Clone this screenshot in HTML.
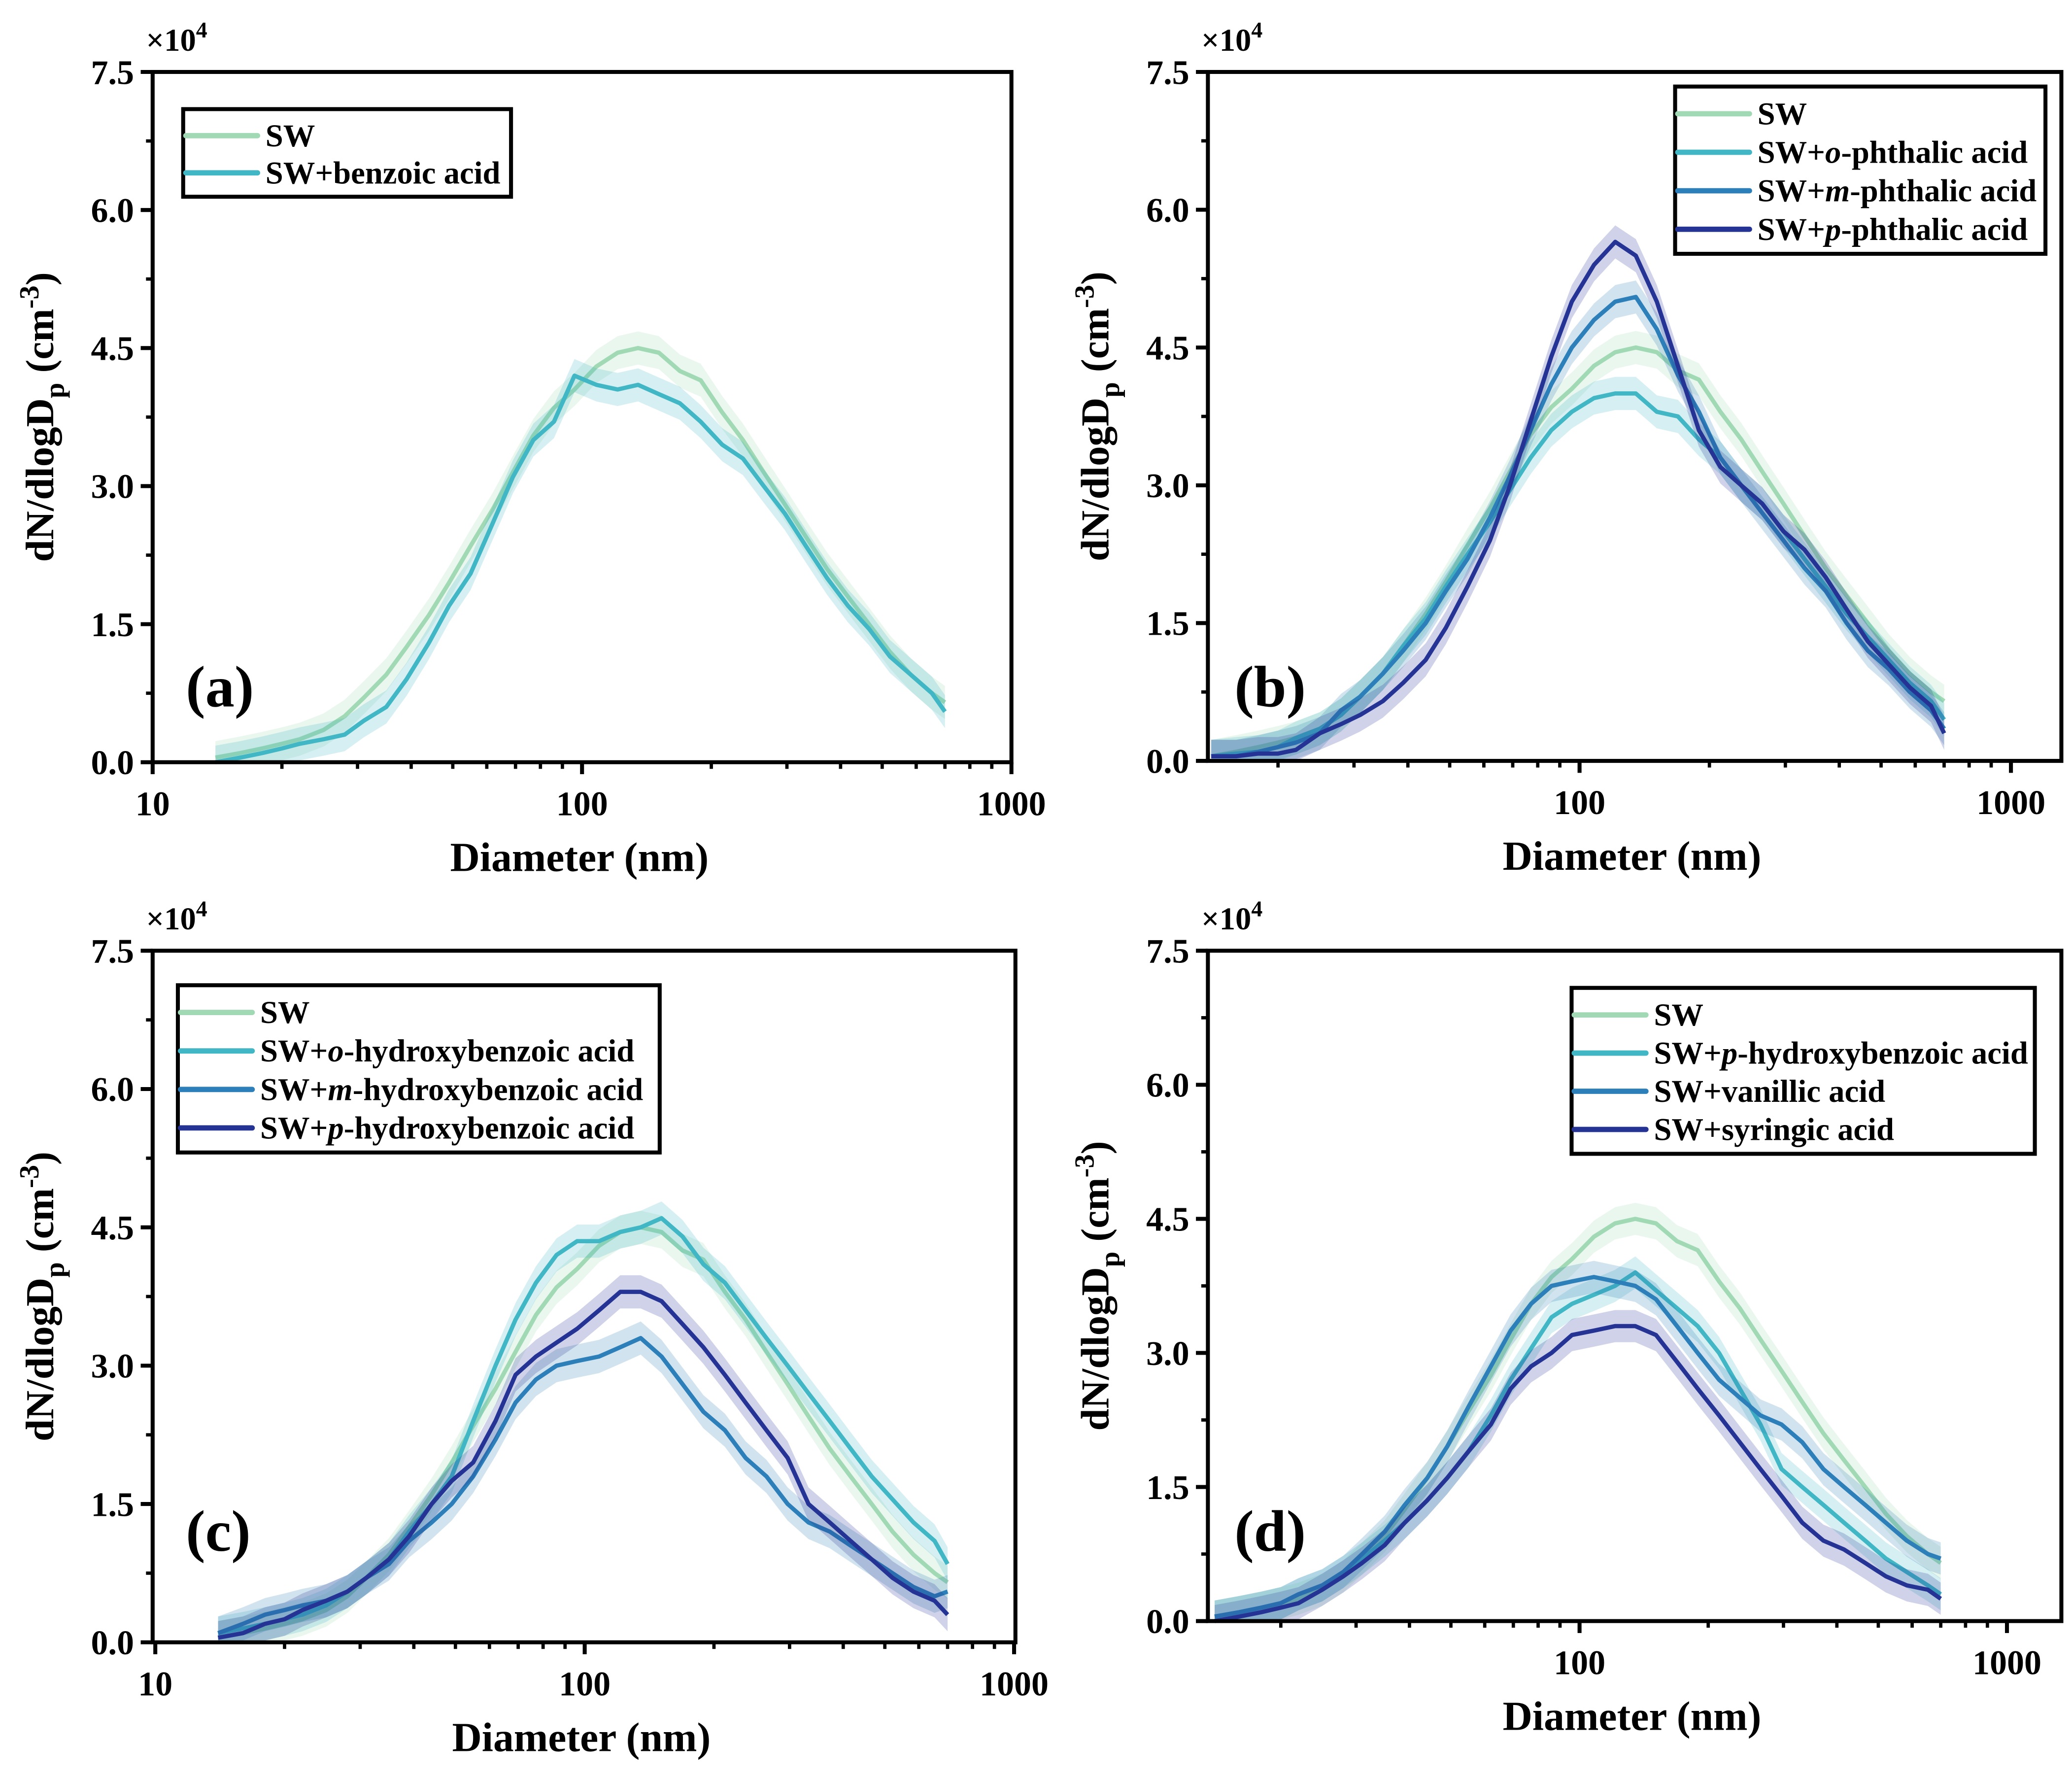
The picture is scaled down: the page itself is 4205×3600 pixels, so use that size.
<!DOCTYPE html>
<html><head><meta charset="utf-8">
<style>
html,body{margin:0;padding:0;background:#fff;}
svg{display:block;}
text{font-family:"Liberation Serif",serif;font-weight:bold;fill:#000;}
</style></head>
<body>
<svg id="chart" width="4205" height="3600" viewBox="0 0 1561 1336" xmlns="http://www.w3.org/2000/svg"></svg>
<script>
const diameters=[14,16,18,20,22,25,28,31,35,39,44,49,55,62,69,77,86,96,108,121,135,151,169,189,212,237,265,297,332,372,416,466,521,583,653,700];
const swVals=[0.05,0.1,0.15,0.2,0.25,0.35,0.5,0.7,0.95,1.25,1.6,1.95,2.35,2.75,3.15,3.55,3.85,4.05,4.3,4.45,4.5,4.45,4.25,4.15,3.8,3.5,3.15,2.8,2.45,2.1,1.8,1.5,1.2,0.95,0.75,0.65];
const benzoicVals=[0,0.05,0.1,0.15,0.2,0.25,0.3,0.45,0.6,0.9,1.3,1.7,2.05,2.6,3.1,3.5,3.7,4.2,4.1,4.05,4.1,4.0,3.9,3.7,3.45,3.3,3.0,2.7,2.35,2.0,1.7,1.45,1.15,0.95,0.75,0.55];
const oPhthVals=[0.05,0.08,0.1,0.15,0.25,0.35,0.5,0.7,0.95,1.25,1.55,1.9,2.25,2.6,2.95,3.3,3.6,3.8,3.95,4.0,4.0,3.8,3.75,3.5,3.3,3.0,2.8,2.5,2.2,1.9,1.6,1.35,1.1,0.85,0.65,0.45];
const mPhthVals=[0.05,0.05,0.1,0.15,0.2,0.3,0.55,0.7,0.95,1.2,1.5,1.85,2.2,2.65,3.1,3.6,4.1,4.5,4.8,5.0,5.05,4.7,4.2,3.8,3.3,3.0,2.7,2.4,2.1,1.85,1.5,1.2,1.0,0.75,0.55,0.35];
const pPhthVals=[0.05,0.05,0.08,0.08,0.12,0.3,0.4,0.5,0.65,0.85,1.1,1.45,1.9,2.4,3.0,3.7,4.4,5.0,5.4,5.65,5.5,5.0,4.3,3.6,3.2,3.0,2.8,2.5,2.3,2.0,1.65,1.3,1.05,0.8,0.6,0.3];
const oHbVals=[0.1,0.15,0.2,0.25,0.3,0.4,0.55,0.7,0.9,1.2,1.5,1.8,2.4,3.0,3.5,3.9,4.2,4.35,4.35,4.45,4.5,4.6,4.4,4.1,3.9,3.6,3.3,3.0,2.7,2.4,2.1,1.8,1.55,1.3,1.1,0.85];
const mHbVals=[0.1,0.2,0.3,0.35,0.4,0.45,0.55,0.7,0.85,1.1,1.3,1.5,1.8,2.2,2.6,2.85,3.0,3.05,3.1,3.2,3.3,3.1,2.8,2.5,2.3,2.0,1.8,1.5,1.3,1.2,1.05,0.9,0.75,0.6,0.5,0.55];
const pHbVals=[0.05,0.1,0.2,0.25,0.35,0.45,0.55,0.7,0.9,1.15,1.5,1.75,1.95,2.4,2.9,3.1,3.25,3.4,3.6,3.8,3.8,3.7,3.45,3.2,2.9,2.6,2.3,2.0,1.5,1.3,1.1,0.9,0.7,0.55,0.45,0.3];
const pHbDVals=[0.05,0.1,0.15,0.2,0.3,0.4,0.55,0.7,0.9,1.1,1.35,1.6,1.9,2.3,2.7,3.05,3.4,3.55,3.65,3.75,3.9,3.7,3.5,3.3,3.0,2.6,2.2,1.7,1.5,1.3,1.1,0.9,0.7,0.55,0.4,0.3];
const vanillicVals=[0.05,0.1,0.15,0.2,0.3,0.4,0.55,0.75,1.0,1.3,1.6,1.95,2.4,2.85,3.25,3.55,3.75,3.8,3.85,3.8,3.75,3.6,3.3,3.0,2.7,2.5,2.3,2.2,2.0,1.7,1.5,1.3,1.1,0.9,0.75,0.7];
const syringicVals=[0.0,0.05,0.1,0.15,0.2,0.35,0.5,0.65,0.85,1.1,1.35,1.6,1.9,2.2,2.6,2.85,3.0,3.2,3.25,3.3,3.3,3.2,2.9,2.6,2.3,2.0,1.7,1.4,1.1,0.9,0.8,0.65,0.5,0.4,0.35,0.25];
const yTickLabels=["0.0","1.5","3.0","4.5","6.0","7.5"];
const yTickValues=[0,1.5,3,4.5,6,7.5];
const xTickValues=[10,100,1000];

const C_SW="#a0d9b4",C_2="#41b6c4",C_3="#2c7fb8",C_4="#253494";
const NS="http://www.w3.org/2000/svg";
const svg=document.getElementById('chart');
function el(tag,attrs,parent){const e=document.createElementNS(NS,tag);for(const k in attrs)e.setAttribute(k,attrs[k]);(parent||svg).appendChild(e);return e;}

const panels=[
 {id:'a',L:115,R:762,T:54,B:574,x10:115,dec:323.5,letter:[140,532],
  leg:{x:138,y:82,w:247,h:66},series:[["SW",swVals,C_SW],["SW+benzoic acid",benzoicVals,C_2]]},
 {id:'b',L:910,R:1553,T:54,B:573,x10:865,dec:325,letter:[930,532],
  leg:{x:1262,y:65,w:279,h:126},series:[["SW",swVals,C_SW],["SW+|o|-phthalic acid",oPhthVals,C_2],["SW+|m|-phthalic acid",mPhthVals,C_3],["SW+|p|-phthalic acid",pPhthVals,C_4]]},
 {id:'c',L:115,R:765,T:716,B:1237,x10:117,dec:323.5,letter:[140,1168],
  leg:{x:134,y:742,w:363,h:126},series:[["SW",swVals,C_SW],["SW+|o|-hydroxybenzoic acid",oHbVals,C_2],["SW+|m|-hydroxybenzoic acid",mHbVals,C_3],["SW+|p|-hydroxybenzoic acid",pHbVals,C_4]]},
 {id:'d',L:910,R:1553,T:716,B:1221,x10:868,dec:322,letter:[930,1168],
  leg:{x:1184,y:744,w:349,h:125},series:[["SW",swVals,C_SW],["SW+|p|-hydroxybenzoic acid",pHbDVals,C_2],["SW+vanillic acid",vanillicVals,C_3],["SW+syringic acid",syringicVals,C_4]]}
];

panels.forEach(p=>{
  const g=el('g',{});
  
  
  const xs=d=>p.x10+p.dec*Math.log10(d/10);
  const ys=v=>p.B-(v/7.5)*(p.B-p.T);
  p.series.forEach((s,i)=>{
    const vals=s[1];
    let up='',dn='';
    diameters.forEach((d,j)=>{up+=(j?'L':'M')+xs(d).toFixed(1)+','+ys(vals[j]+0.18).toFixed(1);});
    for(let j=diameters.length-1;j>=0;j--){dn+='L'+xs(diameters[j]).toFixed(1)+','+ys(Math.max(0,vals[j]-0.18)).toFixed(1);}
    const band=el('path',{d:up+dn+'Z',fill:s[2],'fill-opacity':0.22,stroke:'none'},g);
    
    
    let d='';
    diameters.forEach((dd,j)=>{d+=(j?'L':'M')+xs(dd).toFixed(1)+','+ys(vals[j]).toFixed(1);});
    const line=el('path',{d:d,fill:'none',stroke:s[2],'stroke-width':3.2,'stroke-linejoin':'round'},g);
    
    
  });
  const fr=el('rect',{x:p.L,y:p.T,width:p.R-p.L,height:p.B-p.T,fill:'none',stroke:'#000','stroke-width':3},g);
  
  
  yTickValues.forEach((v,i)=>{
    const y=ys(v);
    el('line',{x1:p.L-9,x2:p.L,y1:y,y2:y,stroke:'#000','stroke-width':3},g);
    if(i<yTickValues.length-1){const ym=ys(v+0.75);el('line',{x1:p.L-5,x2:p.L,y1:ym,y2:ym,stroke:'#000','stroke-width':2.5},g);}
    const t=el('text',{x:p.L-14,y:y+9,'text-anchor':'end','font-size':26},g);
    t.textContent=yTickLabels[i];
    
    
  });
  for(let dec=10;dec<=1000;dec*=10){
    for(let m=1;m<10;m++){
      const v=dec*m; if(v>1000) break;
      const x=xs(v); if(x<p.L-1||x>p.R+1) continue;
      el('line',{x1:x,x2:x,y1:p.B,y2:p.B+(m===1?9:5),stroke:'#000','stroke-width':m===1?3:2.5},g);
    }
  }
  xTickValues.forEach(v=>{
    const x=xs(v); if(x<p.L-2) return;
    const t=el('text',{x:x,y:p.B+40,'text-anchor':'middle','font-size':26},g);
    t.textContent=String(v);
    
    
  });
  const mu=el('text',{x:p.L-5,y:p.T-16,'font-size':24,'font-weight':'normal'},g);
  mu.innerHTML='×10<tspan dy="-10" font-size="17">4</tspan>';
  
  
  const xt=el('text',{x:(p.L+p.R)/2-2,y:p.B+82,'text-anchor':'middle','font-size':31},g);
  xt.textContent='Diameter (nm)';
  
  
  const cy=(p.T+p.B)/2;
  const yt=el('text',{x:0,y:0,'text-anchor':'middle','font-size':30,transform:`translate(${p.L-75},${cy}) rotate(-90)`},g);
  yt.innerHTML='dN/dlogD<tspan dy="8" font-size="21">p</tspan><tspan dy="-8"> (cm</tspan><tspan dy="-11" font-size="21">-3</tspan><tspan dy="11">)</tspan>';
  
  
  const pl=el('text',{x:p.letter[0],y:p.letter[1],'font-size':44},g);
  pl.textContent='('+p.id+')';
  
  
  const lg=el('g',{},g);
  
  
  el('rect',{x:p.leg.x,y:p.leg.y,width:p.leg.w,height:p.leg.h,fill:'#fff',stroke:'#000','stroke-width':3},lg);
  const n=p.series.length, rowH=(p.leg.h-10)/n;
  p.series.forEach((s,i)=>{
    const y=p.leg.y+6+rowH*(i+0.5);
    const ln=el('line',{x1:p.leg.x+2,x2:p.leg.x+56,y1:y,y2:y,stroke:s[2],'stroke-width':4,'stroke-linecap':'round'},lg);
    
    
    const t=el('text',{x:p.leg.x+62,y:y+8,'font-size':24},lg);
    
    
    s[0].split('|').forEach((part,k)=>{
      const ts=el('tspan',{},t);
      if(k===1) ts.setAttribute('font-style','italic');
      ts.textContent=part;
    });
  });
});
</script>
</body></html>
